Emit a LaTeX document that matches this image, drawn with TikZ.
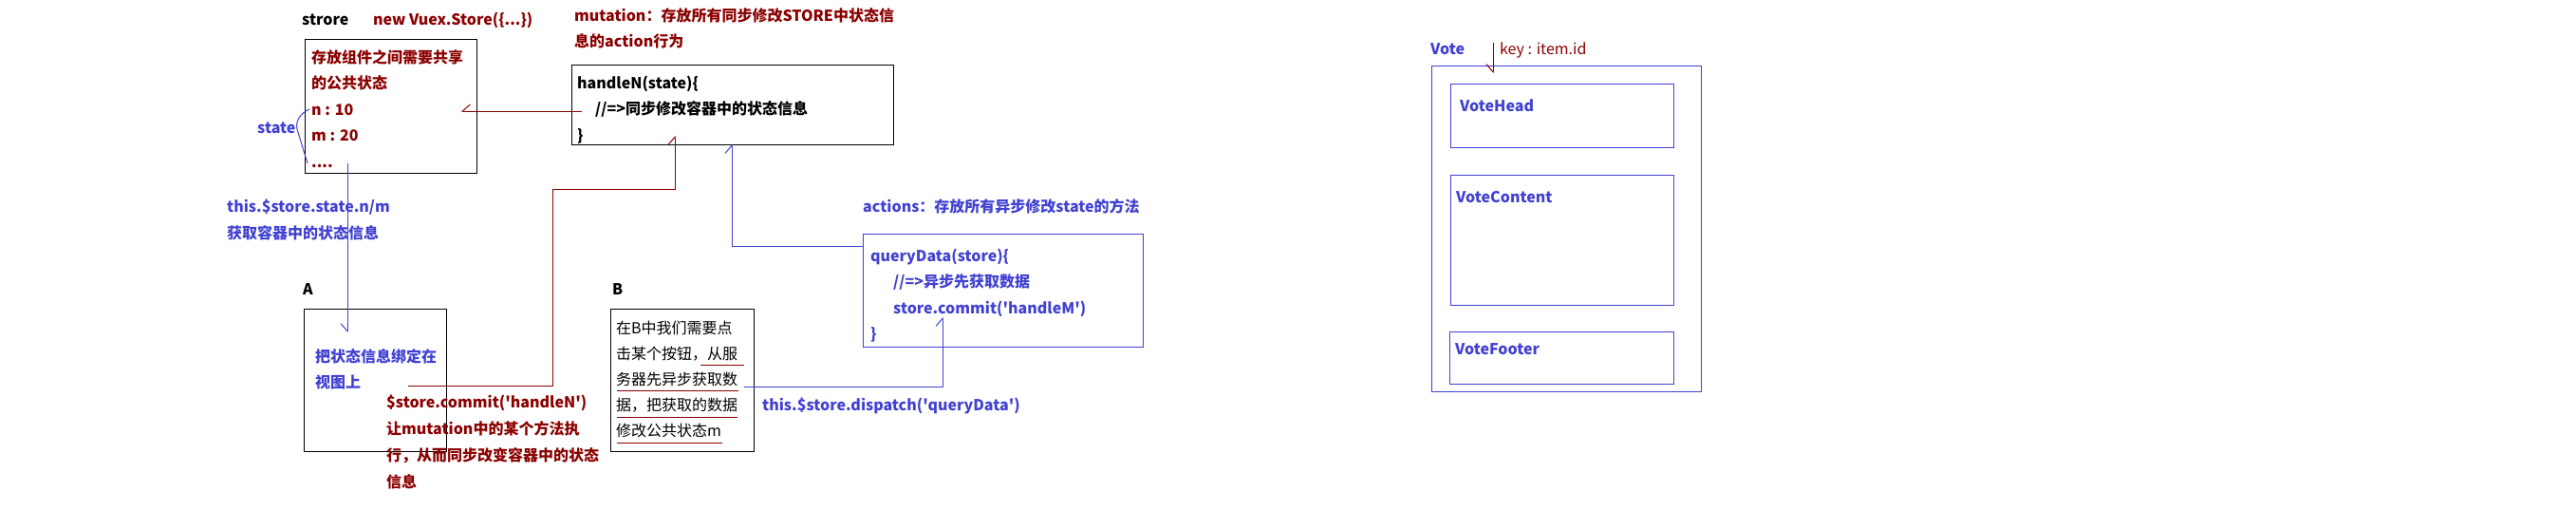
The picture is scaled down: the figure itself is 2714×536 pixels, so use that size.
\documentclass[tikz,border=0pt]{standalone}
\usepackage{fontspec}
\newfontfamily\yh{Noto Sans CJK SC}
\usetikzlibrary{arrows.meta}
\definecolor{dred}{RGB}{139,0,0}
\definecolor{vblue}{RGB}{65,65,210}
\newcommand{\ml}[1]{\begin{tabular}[t]{@{}l@{}}#1\end{tabular}}
\begin{document}
\begin{tikzpicture}[x=1pt,y=-1pt,
  lbl/.style={inner sep=0pt, anchor=base west, font=\yh\fontsize{16}{27.5}\selectfont},
  lblb/.style={inner sep=0pt, anchor=base west, font=\yh\bfseries\fontsize{16}{27.5}\selectfont},
  boxk/.style={draw=black, line width=1.2pt, anchor=north west, inner sep=0pt},
  boxb/.style={draw=vblue, line width=1.2pt, anchor=north west, inner sep=0pt},
  conn/.style={line width=1pt, -{Straight Barb[harpoon,length=8pt,width=14pt]}},
  connsw/.style={line width=1pt, -{Straight Barb[harpoon,swap,length=8pt,width=14pt]}}]
\path[use as bounding box, fill=white] (0,0) rectangle (2714,536);

% ---------- boxes ----------
\node[boxk, minimum width=181pt, minimum height=141pt] (store) at (321,41) {};
\node[boxk, minimum width=339pt, minimum height=84pt] (handle) at (602,68) {};
\node[boxk, minimum width=150pt, minimum height=150pt] (boxA) at (320,325) {};
\node[boxk, minimum width=151pt, minimum height=150pt] (boxB) at (643,325) {};
\node[boxb, minimum width=295pt, minimum height=119pt] (act) at (909,246) {};
\node[boxb, minimum width=284pt, minimum height=343pt] (vote) at (1508,69) {};
\node[boxb, minimum width=235pt, minimum height=67pt] (vhead) at (1528,88) {};
\node[boxb, minimum width=235pt, minimum height=137pt] (vcont) at (1528,184) {};
\node[boxb, minimum width=236pt, minimum height=55pt] (vfoot) at (1527,349) {};

% ---------- labels ----------
\node[lblb] (lstrore) at (318,26) {strore};
\node[lblb, text=dred] (lnew) at (393,26) {new Vuex.Store(\{...\})};
\node[lblb, text=dred] (lmut) at (605,22) {\ml{mutation：存放所有同步修改STORE中状态信\\息的action行为}};
\node[lblb, text=dred] (lstore) at (328,66) {\ml{存放组件之间需要共享\\的公共状态\\n : 10\\m : 20\\....}};
\node[lblb] (lhandle) at (608,93) {\ml{handleN(state)\{\\\hspace{19pt}//=>同步修改容器中的状态信息\\\}}};
\node[lblb, text=vblue] (lstate) at (271,140) {state};
\node[lblb, text=vblue, font=\yh\bfseries\fontsize{16}{28.5}\selectfont] (lthis) at (239,223) {\ml{this.\$store.state.n/m\\获取容器中的状态信息}};
\node[lblb] (lA) at (319,310) {A};
\node[lblb, text=vblue] (ltA) at (332,381) {\ml{把状态信息绑定在\\视图上}};
\node[lblb, text=dred, font=\yh\bfseries\fontsize{16}{28}\selectfont] (lcommit) at (407,429) {\ml{\$store.commit('handleN')\\让mutation中的某个方法执\\行，从而同步改变容器中的状态\\信息}};
\node[lblb] (lB) at (645,310) {B};
\node[lbl, font=\yh\fontsize{16}{27}\selectfont] (ltB) at (649,351) {\ml{在B中我们需要点\\击某个按钮，从服\\务器先异步获取数\\据，把获取的数据\\修改公共状态m}};
\node[lblb, text=vblue] (lact) at (909,223) {actions：存放所有异步修改state的方法};
\node[lblb, text=vblue] (ltact) at (917,275) {\ml{queryData(store)\{\\\hspace{24pt}//=>异步先获取数据\\\hspace{24pt}store.commit('handleM')\\\}}};
\node[lblb, text=vblue] (ldisp) at (803,432) {this.\$store.dispatch('queryData')};
\node[lblb, text=vblue] (lvote) at (1507,57) {Vote};
\node[lbl, text=dred] (lkey) at (1580,57) {key : item.id};
\node[lblb, text=vblue] (lvh) at (1538,117) {VoteHead};
\node[lblb, text=vblue] (lvc) at (1534,213) {VoteContent};
\node[lblb, text=vblue] (lvf) at (1533,373) {VoteFooter};

% ---------- underlines in B ----------
\draw[dred, line width=1pt] (738,384) -- (784,384);
\draw[dred, line width=1pt] (650,411) -- (778,411);
\draw[dred, line width=1pt] (650,439) -- (777,439);
\draw[dred, line width=1pt] (650,466) -- (761,466);

% ---------- connector end points ----------
\coordinate (mutS) at (613,117);
\coordinate (stE) at (486,117);
\coordinate (stS) at (366,172);
\coordinate (aE) at (366,350);
\coordinate (aS) at (430,406);
\coordinate (hE) at (711,143);
\coordinate (actS) at (909,259);
\coordinate (hE2) at (771,152);
\coordinate (bS) at (784,407);
\coordinate (actE) at (993,334);
\coordinate (kS) at (1573,45);
\coordinate (kE) at (1573,77);
\coordinate (brT) at (326,115);
\coordinate (brB) at (324,172);

% ---------- connectors ----------
\draw[connsw, dred] (mutS) -- (stE);
\draw[connsw, vblue] (stS) -- (aE);
\draw[conn, dred] (aS) -- (582,406) -- (582,199) -- (hE |- 0,199) -- (hE);
\draw[conn, vblue] (actS) -- (hE2 |- actS) -- (hE2);
\draw[conn, vblue] (bS) -- (actE |- bS) -- (actE);
\draw[connsw, dred] (kS) -- (kE);
\draw[vblue, line width=1pt] (brT) .. controls (317,119) and (311,127) .. (313,136) -- (brB);
\end{tikzpicture}
\end{document}
